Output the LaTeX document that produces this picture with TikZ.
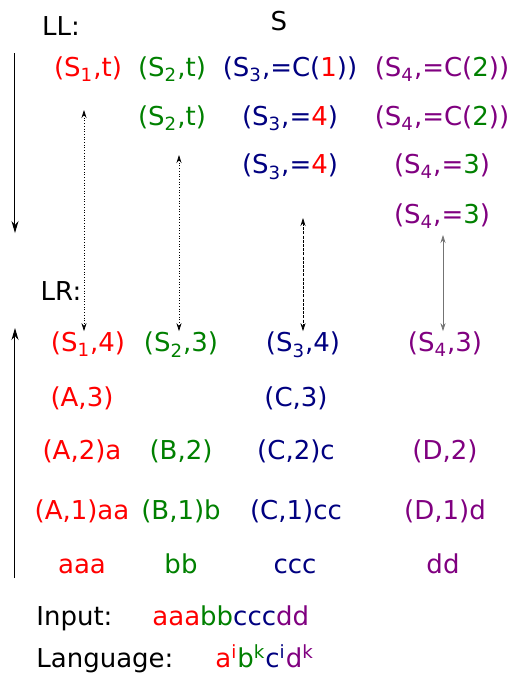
\documentclass[tikz,border=0pt]{standalone}
\usepackage{fontspec}
\setmainfont{DejaVu Sans}
\usepackage{xcolor}
\usetikzlibrary{arrows.meta}

\definecolor{colA}{RGB}{255,0,0}
\definecolor{colB}{RGB}{0,128,0}
\definecolor{colC}{RGB}{0,0,128}
\definecolor{colD}{RGB}{128,0,128}

\newcommand{\sub}[1]{\textsubscript{#1}}
\newcommand{\sups}[1]{\textsuperscript{#1}}

\begin{document}
\begin{tikzpicture}[x=0.5pt, y=-0.5pt, font=\fontsize{13}{15.6}\selectfont,
    txt/.style={inner sep=0pt, text height=0.76em, text depth=0.13em},
    sa/.style={txt, text=colA},
    sb/.style={txt, text=colB},
    sc/.style={txt, text=colC},
    sd/.style={txt, text=colD},
    dir/.style={-{Stealth[length=6pt, width=3.5pt]}, line width=0.5pt},
    link/.style={{Stealth[length=4pt, width=2.5pt]}-{Stealth[length=4pt, width=2.5pt]}, line width=0.35pt, densely dotted, shorten >=2.5pt}]

    \useasboundingbox (0,0) rectangle (513,677);

    % headings
    \node[txt] (ll) at (61,29) {LL:};
    \node[txt] (s) at (279,24) {S};
    \node[txt] (lr) at (61,294) {LR:};

    % LL stacks
    \node[sa] (a1) at (88,70) {(S\sub{1},t)};
    \node[sb] (b1) at (172,70) {(S\sub{2},t)};
    \node[sb] (b2) at (172,119) {(S\sub{2},t)};
    \node[sc] (c1) at (290,70) {(S\sub{3},=C(\textcolor{colA}{1}))};
    \node[sc] (c2) at (290,119) {(S\sub{3},=\textcolor{colA}{4})};
    \node[sc] (c3) at (290,167.5) {(S\sub{3},=\textcolor{colA}{4})};
    \node[sd] (d1) at (442,70) {(S\sub{4},=C(\textcolor{colB}{2}))};
    \node[sd] (d2) at (442,119) {(S\sub{4},=C(\textcolor{colB}{2}))};
    \node[sd] (d3) at (442,167.5) {(S\sub{4},=\textcolor{colB}{3})};
    \node[sd] (d4) at (442,217) {(S\sub{4},=\textcolor{colB}{3})};

    % LR stacks
    \node[sa] (ra1) at (88,345.5) {(S\sub{1},4)};
    \node[sa] (ra2) at (82,400) {(A,3)};
    \node[sa] (ra3) at (82,453) {(A,2)a};
    \node[sa] (ra4) at (82,513) {(A,1)aa};
    \node[sa] (ra5) at (82,567) {aaa};
    \node[sb] (rb1) at (181,345.5) {(S\sub{2},3)};
    \node[sb] (rb3) at (181,453) {(B,2)};
    \node[sb] (rb4) at (181,513) {(B,1)b};
    \node[sb] (rb5) at (181,567) {bb};
    \node[sc] (rc1) at (303,345.5) {(S\sub{3},4)};
    \node[sc] (rc2) at (296,400) {(C,3)};
    \node[sc] (rc3) at (296,453) {(C,2)c};
    \node[sc] (rc4) at (296,513) {(C,1)cc};
    \node[sc] (rc5) at (295,567) {ccc};
    \node[sd] (rd1) at (445,345.5) {(S\sub{4},3)};
    \node[sd] (rd3) at (445,453) {(D,2)};
    \node[sd] (rd4) at (445,513) {(D,1)d};
    \node[sd] (rd5) at (443,567) {dd};

    % input and language
    \node[txt, anchor=west] (inp) at (36,619) {Input:};
    \node[txt, anchor=west] (word) at (152,619) {\textcolor{colA}{aaa}\textcolor{colB}{bb}\textcolor{colC}{ccc}\textcolor{colD}{dd}};
    \node[txt, anchor=west] (lang) at (36,661) {Language:};
    \node[txt, anchor=west] (gram) at (215,661) {\textcolor{colA}{a\sups{i}}\textcolor{colB}{b\sups{k}}\textcolor{colC}{c\sups{i}}\textcolor{colD}{d\sups{k}}};

    % direction arrows
    \coordinate (lltop) at (15,53);
    \coordinate (llbot) at (15,233);
    \coordinate (lrbot) at (15,578);
    \coordinate (lrtop) at (15,328);
    \draw[dir] (lltop) -- (llbot);
    \draw[dir] (lrbot) -- (lrtop);

    % matching arrows
    \coordinate (t1) at (84,110);
    \coordinate (t2) at (179,155);
    \coordinate (t3) at (303,218);
    \coordinate (t4) at (443,235);
    \draw[link] (t1) -- (t1 |- ra1.north);
    \draw[link] (t2) -- (t2 |- rb1.north);
    \draw[link, dash pattern=on 1.5pt off 0.6pt] (t3) -- (t3 |- rc1.north);
    \draw[link, solid, draw=black!55] (t4) -- (t4 |- rd1.north);
\end{tikzpicture}
\end{document}
